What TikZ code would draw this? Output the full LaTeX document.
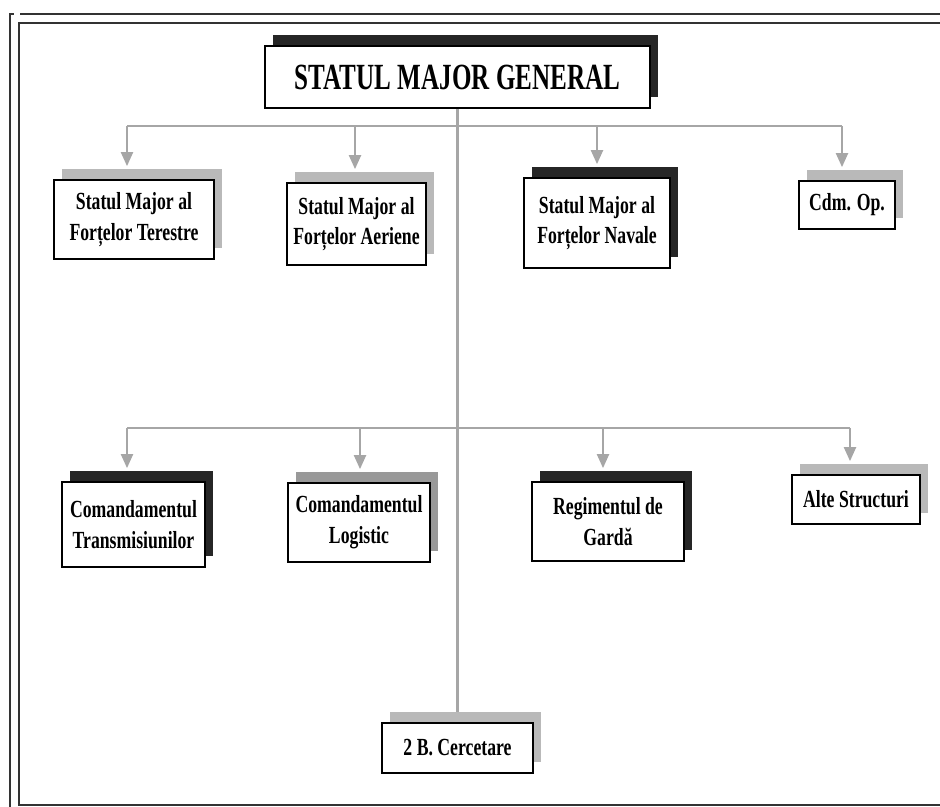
\documentclass[tikz,border=0pt]{standalone}
\usepackage{fontspec}
\newfontfamily\unitfont[FakeStretch=0.72]{Liberation Serif}
\newfontfamily\headfont[FakeStretch=0.68]{Liberation Serif}
\usetikzlibrary{calc}
\usetikzlibrary{shadows}
\usetikzlibrary{arrows.meta}

\tikzset{
    unit/.style={draw, line width=1pt, fill=white, align=center, inner sep=0pt,
        font=\unitfont\bfseries\fontsize{14}{17.5}\selectfont},
    darkshadow/.style={drop shadow={shadow xshift=0.16cm, shadow yshift=0.22cm,
        fill=black!85, opacity=1}},
    lightshadow/.style={drop shadow={shadow xshift=0.16cm, shadow yshift=0.22cm,
        fill=gray!55, opacity=1}},
    conn/.style={gray!70, line width=1.2pt},
    feed/.style={conn, -{Triangle[width=0.24cm, length=0.28cm]}}
}

\begin{document}
\begin{tikzpicture}[x=0.02cm, y=-0.02cm]
    \useasboundingbox (0,0) rectangle (940,807);

    % frame
    \draw[black!80, line width=0.7pt] (10,807) -- (10,14) -- (14,14);
    \draw[black!80, line width=0.7pt] (20,14) -- (940,14);
    \draw[black!80, line width=0.7pt] (940,23) -- (19,23) -- (19,805) -- (940,805);

    % units
    \node[unit, darkshadow, minimum width=7.7cm, minimum height=1.24cm,
        font=\headfont\bfseries\fontsize{21}{24}\selectfont] (smg) at (457.5,77) {STATUL MAJOR GENERAL};

    \node[unit, lightshadow, minimum width=3.2cm, minimum height=1.58cm] (ter) at (134,219.5) {Statul Major al\\Forțelor Terestre};
    \node[unit, lightshadow, minimum width=2.78cm, minimum height=1.64cm] (aer) at (356.5,224) {Statul Major al\\Forțelor Aeriene};
    \node[unit, darkshadow, minimum width=2.92cm, minimum height=1.8cm] (nav) at (597,223) {Statul Major al\\Forțelor Navale};
    \node[unit, lightshadow, minimum width=1.92cm, minimum height=0.96cm] (cdm) at (847,205) {Cdm. Op.};

    \node[unit, darkshadow, minimum width=2.86cm, minimum height=1.7cm] (tra) at (133.5,524.5) {Comandamentul\\Transmisiunilor};
    \node[unit, drop shadow={shadow xshift=0.16cm, shadow yshift=0.22cm, fill=gray!80, opacity=1},
        minimum width=2.84cm, minimum height=1.58cm] (log) at (359,522.5) {Comandamentul\\Logistic};
    \node[unit, darkshadow, minimum width=3.04cm, minimum height=1.58cm] (reg) at (608,521.5) {Regimentul de\\Gardă};
    \node[unit, lightshadow, minimum width=2.56cm, minimum height=0.98cm] (alt) at (856,499.5) {Alte Structuri};

    \node[unit, lightshadow, minimum width=3.02cm, minimum height=1.0cm] (cer) at (457.5,748) {2 B. Cercetare};

    % bus lines
    \coordinate (t1) at (127,126);
    \coordinate (t2) at (355,126);
    \coordinate (t3) at (597,126);
    \coordinate (t4) at (842,126);
    \coordinate (b1) at (127,428);
    \coordinate (b2) at (360,428);
    \coordinate (b3) at (603,428);
    \coordinate (b4) at (850,428);

    \draw[conn] (smg.south) -- ($(smg.south |- cer.north)+(0,-10)$);
    \draw[conn] (t1) -- (t4);
    \draw[conn] (b1) -- (b4);

    \draw[feed] (t1) -- ($(t1 |- ter.north)+(0,-13)$);
    \draw[feed] (t2) -- ($(t2 |- aer.north)+(0,-13)$);
    \draw[feed] (t3) -- ($(t3 |- nav.north)+(0,-13)$);
    \draw[feed] (t4) -- ($(t4 |- cdm.north)+(0,-13)$);

    \draw[feed] (b1) -- ($(b1 |- tra.north)+(0,-13)$);
    \draw[feed] (b2) -- ($(b2 |- log.north)+(0,-13)$);
    \draw[feed] (b3) -- ($(b3 |- reg.north)+(0,-13)$);
    \draw[feed] (b4) -- ($(b4 |- alt.north)+(0,-13)$);
\end{tikzpicture}
\end{document}
